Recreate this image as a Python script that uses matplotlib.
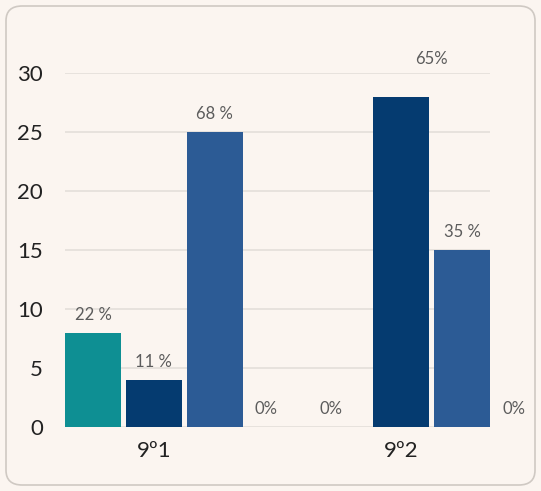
import matplotlib
matplotlib.use("Agg")
import matplotlib.pyplot as plt
from matplotlib.patches import FancyBboxPatch

categories = ["9º1", "9º2"]
series_values = [
    [8, 0],    # teal
    [4, 28],   # navy
    [25, 15],  # blue
    [0, 0],    # fourth series
]
value_labels = [
    ["22 %", "0%"],
    ["11 %", "65%"],
    ["68 %", "35 %"],
    ["0%", "0%"],
]
yticks = [0, 5, 10, 15, 20, 25, 30]

colors = ["#0e8f93", "#053b70", "#2c5b95", "#6a8fc0"]
bg = "#fbf5f0"
font = ["Lato", "DejaVu Sans"]
plt.rcParams["font.family"] = font

W, H = 541, 491
fig = plt.figure(figsize=(W / 100, H / 100), dpi=100)
fig.patch.set_facecolor(bg)

# rounded card border
card = FancyBboxPatch((6 / W, 6 / H), (W - 12) / W, (H - 12) / H,
                      boxstyle="round,pad=0,rounding_size=0.03",
                      transform=fig.transFigure, facecolor=bg,
                      edgecolor="#cfc9c3", linewidth=1.2, zorder=-10)
fig.patches.append(card)

ax = fig.add_axes([65 / W, 1 - 427 / H, (490 - 65) / W, (427 - 73) / H])
ax.set_facecolor("none")
ax.set_zorder(1)

G = 4.07
w = 0.92
n_series = len(series_values)
for j in range(n_series):
    xs = [i * G + j for i in range(len(categories))]
    ax.bar(xs, series_values[j], width=w, color=colors[j], zorder=3,
           clip_on=False, edgecolor="none")

# value labels
special = {(1, 1): (30, 20)}  # (series, category): pixel offset x, y
for j in range(n_series):
    for i in range(len(categories)):
        v = series_values[j][i]
        dx, dy = special.get((j, i), (0, 0))
        if v == 0:
            dx -= 9
        ax.annotate(value_labels[j][i], (i * G + j, v),
                    xytext=(dx * 0.72, 13 + dy * 0.72), textcoords="offset points",
                    ha="center", va="center", fontsize=12, color="#5c5c5c",
                    annotation_clip=False, zorder=4)

ax.set_xlim(-w / 2, 2 + G + w / 2)
ax.set_ylim(0, 30)
ax.set_yticks(yticks)
ax.set_yticklabels([str(t) for t in yticks])
ax.set_xticks([i * G + 1 for i in range(len(categories))])
ax.set_xticklabels(categories)
ax.tick_params(axis="y", length=0, pad=16, labelsize=16, labelcolor="#222222")
ax.tick_params(axis="x", length=0, pad=10, labelsize=16, labelcolor="#222222")
ax.grid(axis="y", color="#e4dfda", linewidth=1.2, zorder=0)
ax.set_axisbelow(True)
for s in ax.spines.values():
    s.set_visible(False)

fig.savefig("out.png", dpi=100, facecolor=bg)
